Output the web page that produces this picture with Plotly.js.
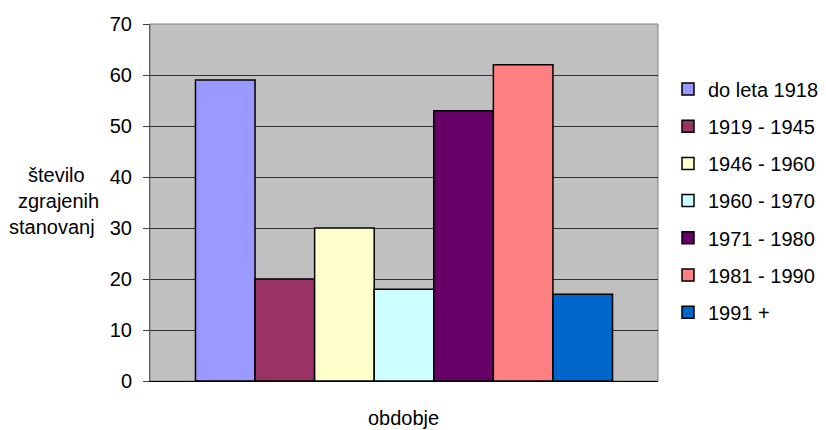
<!DOCTYPE html>
<html><head><meta charset="utf-8">
<script src="https://cdn.plot.ly/plotly-3.0.1.min.js"></script>
<style>body{margin:0;background:#fff}#c{width:826px;height:430px}</style>
</head><body><div id="c"></div>
<script>
const seriesNames = ['do leta 1918','1919 - 1945','1946 - 1960','1960 - 1970','1971 - 1980','1981 - 1990','1991 +'];
const seriesValues = [59, 20, 30, 18, 53, 62, 17];
const seriesColors = ['#9999FF','#993366','#FFFFCC','#CCFFFF','#660066','#FF8080','#0066CC'];
const category = ['obdobje'];
const yTitleLines = ['število','zgrajenih','stanovanj'];

const traces = seriesNames.map((n,i)=>({
  type:'bar', name:n, x:category, y:[seriesValues[i]],
  legendgroup:'g'+i,
  marker:{color:seriesColors[i], line:{color:'#000', width:1.5}},
  hoverinfo:'skip'
}));

const font = {family:'"Liberation Sans", Arial, sans-serif', size:20, color:'#000'};
const L = 150, PW = 508, B = 381, PH = 357;
const px = v => (v - L) / PW;
const py = v => (B - v) / PH;
const titleX = [56, 58, 52];
const layout = {
  width:826, height:430,
  margin:{l:150, r:168, t:24, b:49, autoexpand:false},
  paper_bgcolor:'#fff', plot_bgcolor:'#C0C0C0',
  font:font,
  barmode:'group', bargap:0.179, bargroupgap:0,
  showlegend:true,
  legend:{x:px(668), xanchor:'left', y:py(201), yanchor:'middle',
    font:font, tracegroupgap:8.2, itemwidth:30, bgcolor:'rgba(0,0,0,0)'},
  xaxis:{type:'category', range:[-0.5,0.5], showticklabels:false, ticks:'', showgrid:false, zeroline:false,
    showline:true, linecolor:'#000', linewidth:1, mirror:false},
  yaxis:{range:[0,70], dtick:10, tick0:0, ticks:'outside', ticklen:6, tickcolor:'#404040',
    ticklabelstandoff:7,
    showgrid:true, gridcolor:'#303030', gridwidth:1, zeroline:false,
    showline:true, linecolor:'#606060', linewidth:1, tickfont:font},
  shapes:[{type:'rect', xref:'paper', yref:'paper', x0:0, x1:1, y0:0, y1:1,
    line:{color:'#808080', width:1}, fillcolor:'rgba(0,0,0,0)', layer:'below'}],
  annotations:[
    {text:'obdobje', xref:'paper', yref:'paper', x:px(403), y:py(418), yanchor:'middle', showarrow:false, font:font},
    ...yTitleLines.map((t,i)=>({text:t, xref:'paper', yref:'paper', x:px(titleX[i]), xanchor:'center',
      y:py(175+26*i), yanchor:'middle', showarrow:false, font:font}))
  ]
};
Plotly.newPlot('c', traces, layout, {displayModeBar:false, staticPlot:true});
</script></body></html>
